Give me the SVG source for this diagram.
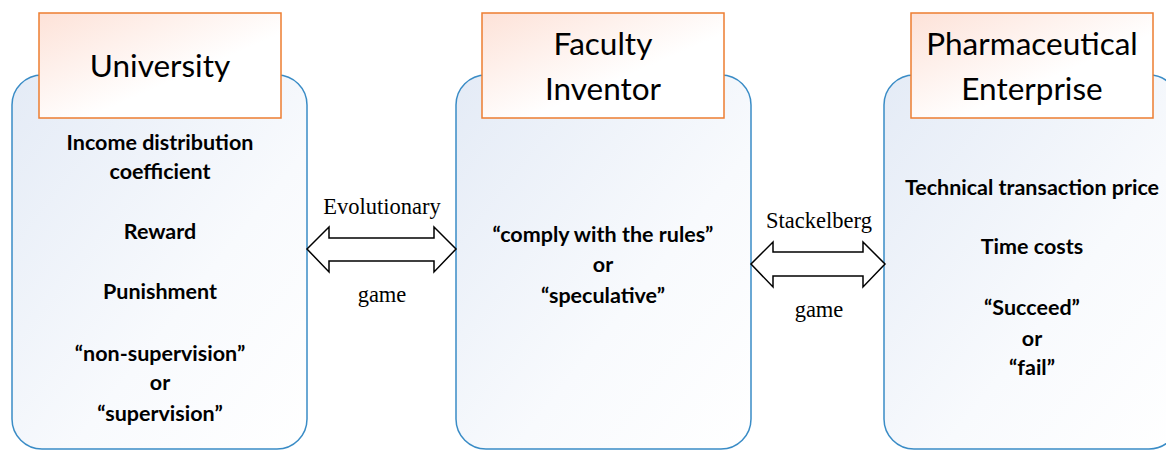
<svg xmlns="http://www.w3.org/2000/svg" width="1166" height="450" viewBox="0 0 1166 450">
<defs>
<linearGradient id="gBlue" x1="0" y1="0" x2="1" y2="1">
<stop offset="0" stop-color="#e4ebf6"/>
<stop offset="0.6" stop-color="#f8fafd"/>
<stop offset="1" stop-color="#ffffff"/>
</linearGradient>
<linearGradient id="gOrange" x1="0" y1="0" x2="1" y2="1">
<stop offset="0" stop-color="#fde2d8"/>
<stop offset="0.6" stop-color="#ffffff"/>
<stop offset="1" stop-color="#ffffff"/>
</linearGradient>
<style>
.panel{fill:url(#gBlue);stroke:#3a8cc6;stroke-width:1.5}
.head{fill:url(#gOrange);stroke:#ed7d31;stroke-width:1.5}
.title{font-family:Lato,"Liberation Sans",sans-serif;font-size:31.5px;fill:#000;text-anchor:middle}
.body{font-family:Lato,"Liberation Sans",sans-serif;font-size:21.5px;font-weight:bold;fill:#000;text-anchor:middle}
.lbl{font-family:"Liberation Serif",serif;font-size:22.5px;fill:#000;text-anchor:middle}
.arrow{fill:#fff;stroke:#000;stroke-width:1.5;stroke-linejoin:miter}
</style>
</defs>
<rect width="1166" height="450" fill="#fff"/>
<g id="university">
<rect class="panel" x="12" y="75" width="295" height="374" rx="30"/>
<rect class="head" x="39" y="13" width="242" height="105"/>
<text class="title" x="160" y="77">University</text>
<text class="body" x="160" y="150">Income distribution</text>
<text class="body" x="160" y="179">coefficient</text>
<text class="body" x="160" y="239">Reward</text>
<text class="body" x="160" y="299">Punishment</text>
<text class="body" x="160" y="361">“non-supervision”</text>
<text class="body" x="160" y="390">or</text>
<text class="body" x="160" y="421">“supervision”</text>
</g>
<g id="faculty-inventor">
<rect class="panel" x="456" y="75" width="295" height="374" rx="30"/>
<rect class="head" x="482" y="13" width="242" height="105"/>
<text class="title" x="603" y="55">Faculty</text>
<text class="title" x="603" y="100">Inventor</text>
<text class="body" x="603" y="242">“comply with the rules”</text>
<text class="body" x="603" y="272">or</text>
<text class="body" x="603" y="303">“speculative”</text>
</g>
<g id="pharmaceutical-enterprise">
<rect class="panel" x="884" y="75" width="295" height="374" rx="30"/>
<rect class="head" x="911" y="13" width="242" height="105"/>
<text class="title" x="1032" y="55">Pharmaceutical</text>
<text class="title" x="1032" y="100">Enterprise</text>
<text class="body" x="1032" y="195">Technical transaction price</text>
<text class="body" x="1032" y="254">Time costs</text>
<text class="body" x="1032" y="315">“Succeed”</text>
<text class="body" x="1032" y="346">or</text>
<text class="body" x="1032" y="375">“fail”</text>
</g>
<g id="connectors">
<polygon class="arrow" points="307,249 329,227 329,238 434,238 434,227 456,249 434,272 434,261 329,261 329,272"/>
<text class="lbl" x="382" y="214">Evolutionary</text>
<text class="lbl" x="382" y="302">game</text>
<polygon class="arrow" points="751,264 773,242 773,252 863,252 863,242 885,264 863,287 863,276 773,276 773,287"/>
<text class="lbl" x="819" y="228">Stackelberg</text>
<text class="lbl" x="819" y="317">game</text>
</g>
</svg>
